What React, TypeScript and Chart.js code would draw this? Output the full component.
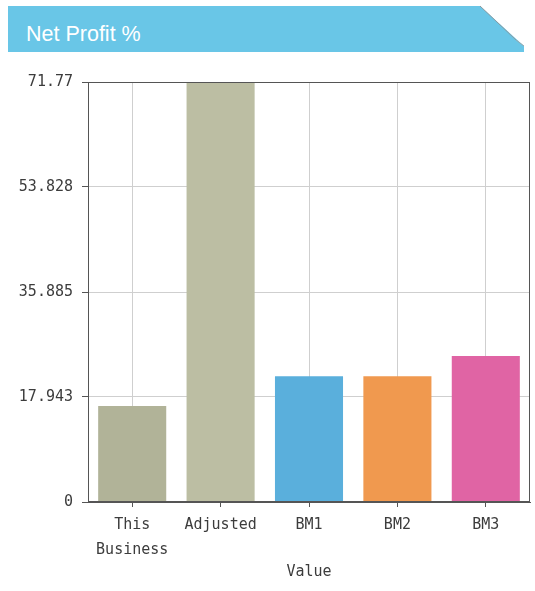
import React, { useEffect, useRef } from "react";
import { Chart, registerables } from "chart.js";

Chart.register(...registerables);

const categories: (string | string[])[] = [["This", "Business"], "Adjusted", "BM1", "BM2", "BM3"];
const values: number[] = [16.4, 71.77, 21.5, 21.5, 24.95];
const barColors: string[] = ["#b1b398", "#bcbea3", "#5aafdc", "#f0994f", "#e064a4"];
const yTickValues: number[] = [0, 17.943, 35.885, 53.828, 71.77];
const yTickLabels: string[] = ["0", "17.943", "35.885", "53.828", "71.77"];
const chartTitle = "Net Profit %";
const xAxisTitle = "Value";

const FONT = "'DejaVu Sans Mono', monospace";

const boxPlugin = {
  id: "boxBorder",
  afterDraw(chart: any) {
    const { ctx, chartArea } = chart;
    ctx.save();
    ctx.strokeStyle = "#555555";
    ctx.lineWidth = 1;
    ctx.strokeRect(
      Math.round(chartArea.left) + 0.5,
      Math.round(chartArea.top) + 0.5,
      Math.round(chartArea.right - chartArea.left) - 1,
      Math.round(chartArea.bottom - chartArea.top) - 1
    );
    ctx.restore();
  },
};

export default function App() {
  const canvasRef = useRef<HTMLCanvasElement | null>(null);

  useEffect(() => {
    if (!canvasRef.current) return;
    const chart = new Chart(canvasRef.current, {
      type: "bar",
      data: {
        labels: categories,
        datasets: [
          {
            data: values,
            backgroundColor: barColors,
            borderWidth: 0,
            barPercentage: 0.77,
            categoryPercentage: 1,
          },
        ],
      },
      options: {
        animation: false,
        responsive: false,
        maintainAspectRatio: false,
        layout: { padding: { top: 22, right: 5, left: 0, bottom: 0 } },
        plugins: {
          legend: { display: false },
          tooltip: { enabled: false },
          title: { display: false },
        },
        scales: {
          x: {
            grid: {
              offset: false,
              color: "#cfcfcf",
              tickColor: "#555555",
              tickLength: 5,
              drawTicks: true,
            },
            border: { color: "#555555", width: 1 },
            ticks: {
              color: "#3c3c3c",
              padding: 5,
              maxRotation: 0,
              font: { family: FONT, size: 15, lineHeight: 1.7 },
            },
            title: {
              display: true,
              text: xAxisTitle,
              color: "#3c3c3c",
              font: { family: FONT, size: 15, lineHeight: 1.2 },
              padding: { top: 0, bottom: 10 },
            },
            afterFit(scale: any) {
              scale.height = 89;
            },
          },
          y: {
            min: 0,
            max: 71.77,
            grid: {
              color: "#cfcfcf",
              tickColor: "#555555",
              tickLength: 6,
            },
            border: { color: "#555555", width: 1 },
            ticks: {
              color: "#3c3c3c",
              padding: 9,
              font: { family: FONT, size: 15 },
              callback: (_v: any, i: number) => yTickLabels[i],
            },
            afterBuildTicks(scale: any) {
              scale.ticks = yTickValues.map((v) => ({ value: v }));
            },
            afterFit(scale: any) {
              scale.width = 88;
            },
          },
        },
      },
      plugins: [boxPlugin],
    });
    return () => chart.destroy();
  }, []);

  return (
    <div style={{ position: "absolute", left: 0, top: 0, width: 535, height: 591, background: "#ffffff", overflow: "hidden" }}>
      <svg width={535} height={60} style={{ position: "absolute", left: 0, top: 0 }}>
        <polygon points="8,6 480,6 524,46 524,52 8,52" fill="#69c6e7" />
        <line x1={480} y1={6} x2={516} y2={40} stroke="#8a9aa0" strokeWidth={1} />
        <line x1={516} y1={40} x2={524} y2={46} stroke="#9aa8ac" strokeWidth={1} />
        <text x={26} y={41} fill="#ffffff" fontFamily="'Liberation Sans', Arial, sans-serif" fontSize={21.5}>
          {chartTitle}
        </text>
      </svg>
      <canvas ref={canvasRef} width={535} height={531} style={{ position: "absolute", left: 0, top: 60, width: 535, height: 531 }} />
    </div>
  );
}
